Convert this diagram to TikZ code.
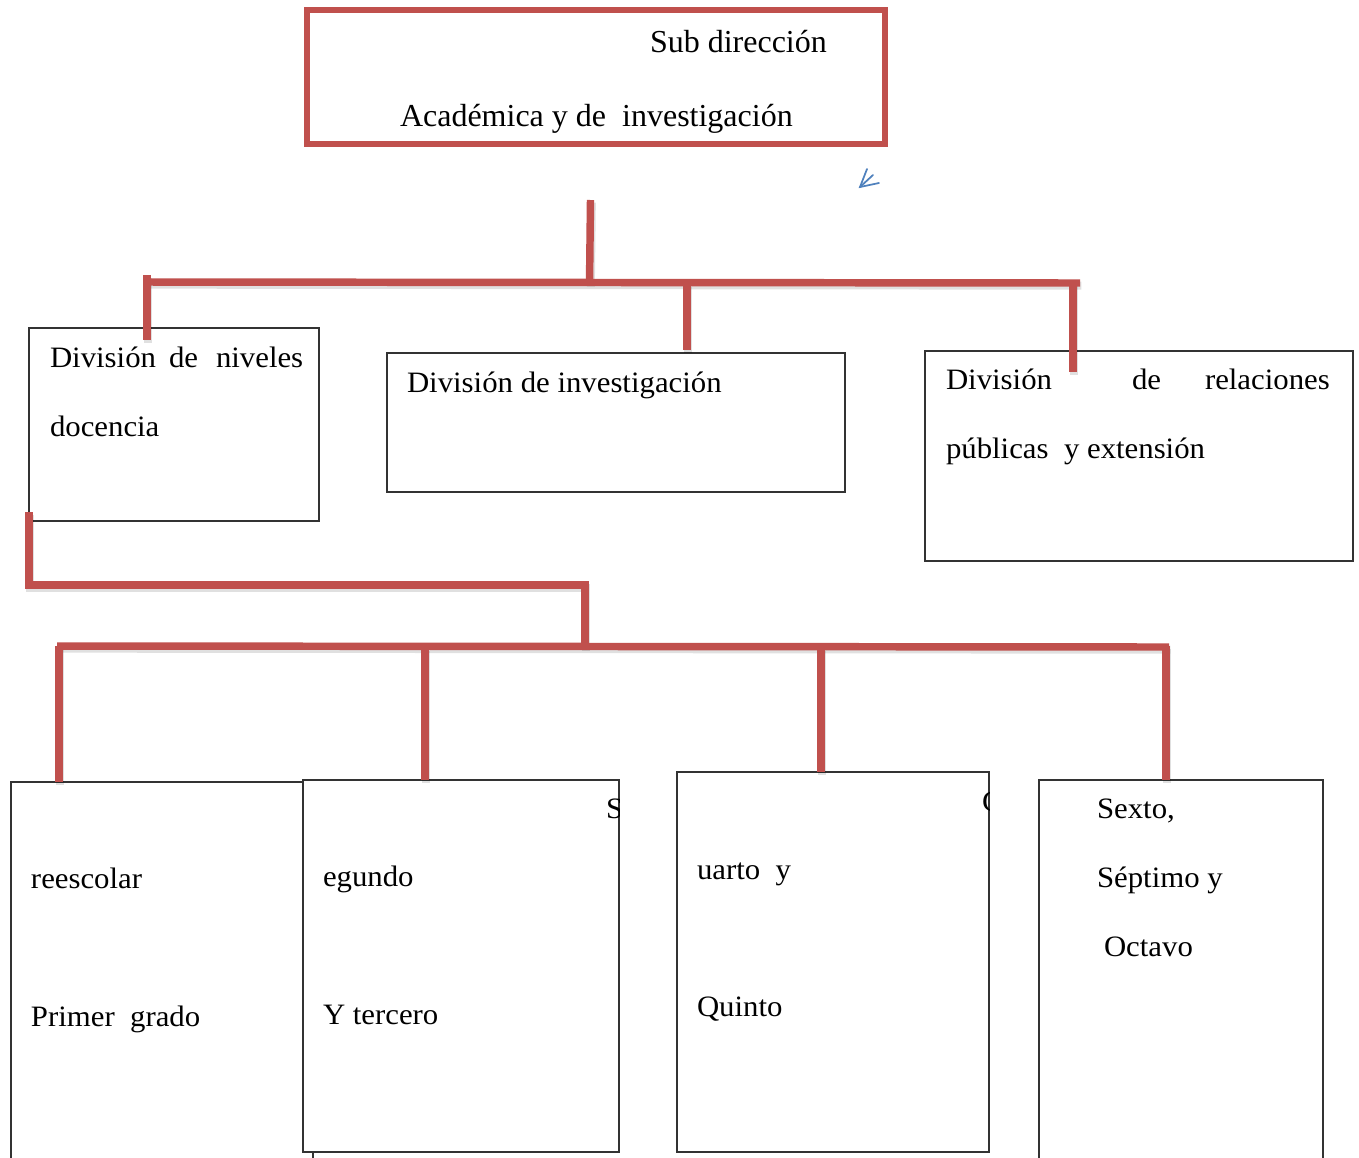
\documentclass[tikz,border=0pt]{standalone}
\usepackage{fontspec}
\setmainfont{Liberation Serif}
\newfontfamily\camfont[FakeStretch=1.04]{Liberation Serif}
\definecolor{orgred}{HTML}{C0504D}
\definecolor{arrblue}{HTML}{4F81BD}
\tikzset{
  box/.style={draw=black!80, line width=1pt, fill=white, inner sep=0pt, outer sep=0pt},
  topbox/.style={draw=orgred, line width=3.8pt, inner sep=0pt, outer sep=0pt},
  conn/.style={draw=orgred, line width=5.6pt},
  connshadow/.style={draw=black, opacity=0.12, line width=6pt, transform canvas={shift={(1pt,-2pt)}}},
  lbl/.style={anchor=base west, inner sep=0pt, outer sep=0pt, font=\camfont\fontsize{22.2}{26}\selectfont},
  toplbl/.style={anchor=base west, inner sep=0pt, outer sep=0pt, font=\fontsize{24}{28}\selectfont},
}
\begin{document}
\begin{tikzpicture}[x=0.75pt,y=-0.75pt]
\useasboundingbox (0,0) rectangle (1359,1157);
\fill[white] (0,0) rectangle (1359,1157);

% ---------- boxes ----------
\node[topbox, minimum width=433.5pt, minimum height=100.5pt] (top) at (596,77) {};
\node[box, minimum width=217.5pt, minimum height=144.75pt] (b1) at (174,424.5) {};
\node[box, minimum width=343.5pt, minimum height=104.25pt] (b2) at (616,422.5) {};
\node[box, minimum width=321pt, minimum height=157.5pt] (b3) at (1139,456) {};
\node[box, minimum width=226.5pt, minimum height=291pt] (c1) at (162,976) {};
\node[box, minimum width=237pt, minimum height=279pt] (c2) at (461,966) {};
\node[box, minimum width=234pt, minimum height=285pt] (c3) at (833,962) {};
\node[box, minimum width=213pt, minimum height=292.5pt] (c4) at (1181,975) {};

% ---------- texts ----------
\node[toplbl] (t1) at (650,52) {Sub dirección};
\node[toplbl] (t2) at (400,126) {Académica y de\ \ investigación};

\node[lbl] (b1w1) at (50,367) {División};
\node[lbl] (b1w2) at (169,367) {de};
\node[lbl] (b1w3) at (216,367) {niveles};
\node[lbl] (b1l2) at (50,436) {docencia};

\node[lbl] (b2l1) at (407,392) {División de investigación};

\node[lbl] (b3w1) at (946,389) {División};
\node[lbl] (b3w2) at (1132,389) {de};
\node[lbl] (b3w3) at (1205,389) {relaciones};
\node[lbl] (b3l2) at (946,458) {públicas\ \ y extensión};

\node[lbl] (c1l1) at (31,888) {reescolar};
\node[lbl] (c1l2) at (31,1026) {Primer\ \ grado};

\begin{scope}
\clip (c2.north west) rectangle (c2.south east);
\node[lbl] (c2s) at (606,818) {S};
\end{scope}
\node[lbl] (c2l1) at (323,886) {egundo};
\node[lbl] (c2l2) at (323,1024) {Y tercero};

\begin{scope}
\clip (c3.north west) rectangle (c3.south east);
\node[lbl] (c3c) at (982,811) {C};
\end{scope}
\node[lbl] (c3l1) at (697,879) {uarto\ \ y};
\node[lbl] (c3l2) at (697,1016) {Quinto};

\node[lbl] (c4l1) at (1097,818) {Sexto,};
\node[lbl] (c4l2) at (1097,887) {Séptimo y};
\node[lbl] (c4l3) at (1104,956) {Octavo};

% ---------- connector points ----------
\coordinate (s0) at (590.5,200);
\coordinate (s1) at (589.5,284);
\coordinate (hL) at (144,282);
\coordinate (hR) at (1080,283);
\coordinate (d1a) at (147,275);
\coordinate (d1b) at (147,340);
\coordinate (d2a) at (687,284);
\coordinate (d2b) at (687,350);
\coordinate (d3a) at (1073,283);
\coordinate (d3b) at (1073,372);

\coordinate (e0) at (29,512);
\coordinate (e1) at (29,585);
\coordinate (e2) at (585,585);
\coordinate (e3) at (585,648);
\coordinate (gL) at (57,646);
\coordinate (gR) at (1169,647);
\coordinate (g1a) at (59,646);
\coordinate (g2a) at (425,648);
\coordinate (g3a) at (821,648);
\coordinate (g4a) at (1166,646);

% shadows
\foreach \a/\b in {s0/s1, hL/hR, d1a/d1b, d2a/d2b, d3a/d3b, gL/gR}
  \draw[connshadow] (\a) -- (\b);
\draw[connshadow] (e0) -- (e1) -- (e2) -- (e3);
\draw[connshadow] (g1a) -- (g1a |- c1.north);
\draw[connshadow] (g2a) -- (g2a |- c2.north);
\draw[connshadow] (g3a) -- (g3a |- c3.north);
\draw[connshadow] (g4a) -- (g4a |- c4.north);

% red connectors
\draw[conn] (s0) -- (s1);
\draw[conn] (hL) -- (hR);
\draw[conn] (d1a) -- (d1b);
\draw[conn] (d2a) -- (d2b);
\draw[conn] (d3a) -- (d3b);
\draw[conn] (e0) -- (e1) -- (e2) -- (e3);
\draw[conn] (gL) -- (gR);
\draw[conn] (g1a) -- (g1a |- c1.north);
\draw[conn] (g2a) -- (g2a |- c2.north);
\draw[conn] (g3a) -- (g3a |- c3.north);
\draw[conn] (g4a) -- (g4a |- c4.north);

% small blue arrow
\coordinate (atip) at (860,187);
\coordinate (ab1) at (867,169);
\coordinate (ab2) at (873,175);
\coordinate (ab3) at (879,183);
\draw[arrblue, line width=1.3pt, line cap=round] (ab1) -- (atip) -- (ab3);
\draw[arrblue, line width=1.3pt, line cap=round] (atip) -- (ab2);
\end{tikzpicture}
\end{document}
